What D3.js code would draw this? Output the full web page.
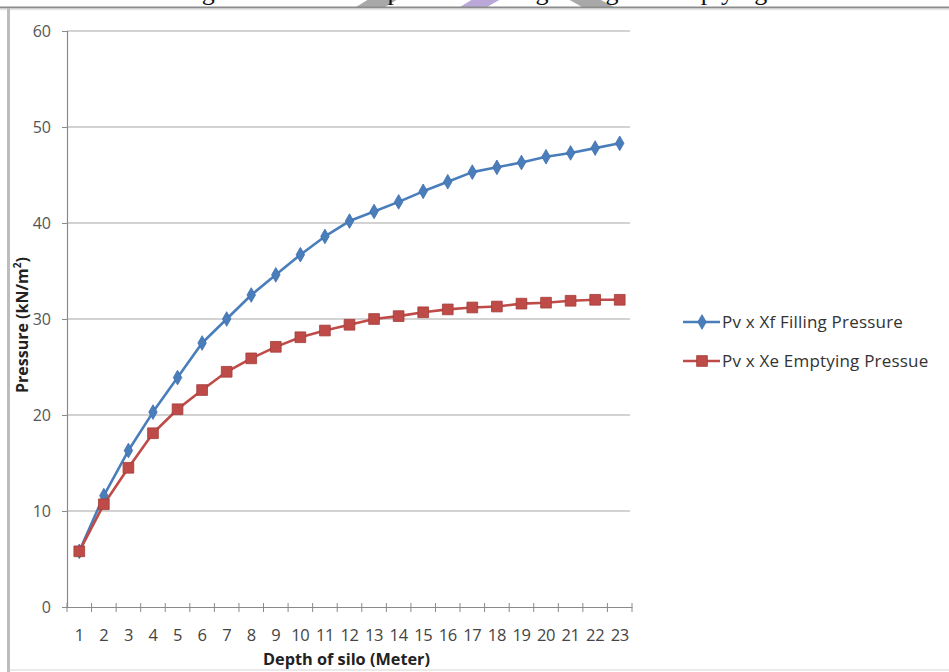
<!DOCTYPE html>
<html>
<head>
<meta charset="utf-8">
<script src="https://cdn.jsdelivr.net/npm/d3@7"></script>
<style>
  html, body { margin: 0; padding: 0; background: #fff; }
  svg { display: block; }
</style>
</head>
<body>
<svg id="chart" width="949" height="672"></svg>
<script>
// Depth of silo (m) and vertical pressure values (kN/m²)
const depths = d3.range(1, 24).map(String);
const fillingPressure = [5.8, 11.6, 16.3, 20.3, 23.9, 27.5, 30.0, 32.5, 34.6, 36.7, 38.6, 40.2,
                         41.2, 42.2, 43.3, 44.3, 45.3, 45.8, 46.3, 46.9, 47.3, 47.8, 48.3];
const emptyingPressure = [5.8, 10.7, 14.5, 18.1, 20.6, 22.6, 24.5, 25.9, 27.1, 28.1, 28.8, 29.4,
                          30.0, 30.3, 30.7, 31.0, 31.2, 31.3, 31.6, 31.7, 31.9, 32.0, 32.0];
const yTicks = [0, 10, 20, 30, 40, 50, 60];
const seriesNames = ["Pv x Xf Filling Pressure", "Pv x Xe Emptying Pressue"];
const captionText = "Figure 4.3: Vertical pressure during filling and emptying";

const svg = d3.select("#chart");
const W = 949, H = 672;
const plot = { left: 67, right: 632, top: 31, bottom: 607 };
const uiFont = "'Open Sans', Lato, sans-serif";

// Caption of the page above the framed chart (only its lower part is in view)
const cap = svg.append("g");
const wm = [
  { c: "#a8a8a8", pts: [[356, 7], [385, 7], [398, -1], [369, -1]] },
  { c: "#b9a8d8", pts: [[460, 7], [487, 7], [501, -1], [473, -1]] },
  { c: "#a8a8a8", pts: [[568, -1], [599, -1], [614, 7], [582, 7]] }
];
wm.forEach(d => cap.append("polygon")
  .attr("points", d.pts.map(p => p.join(",")).join(" "))
  .attr("fill", d.c));
cap.append("text")
  .attr("x", 180).attr("y", 0)
  .attr("font-family", "'Liberation Serif', 'DejaVu Serif', serif")
  .attr("font-size", 26)
  .attr("fill", "#111")
  .text(captionText);

// Chart frame
svg.append("rect").attr("x", 0).attr("y", 7).attr("width", W).attr("height", H - 7).attr("fill", "#fff");
svg.append("line").attr("x1", 0).attr("x2", W).attr("y1", 7.5).attr("y2", 7.5)
  .attr("stroke", "#8c8c8c").attr("stroke-width", 2);
svg.append("line").attr("x1", 0).attr("x2", W).attr("y1", 9.5).attr("y2", 9.5)
  .attr("stroke", "#e6e6e6").attr("stroke-width", 1.5);
svg.append("rect").attr("x", 7).attr("y", 8).attr("width", 3).attr("height", H - 8).attr("fill", "#bdbdbd");
svg.append("line").attr("x1", 10).attr("x2", W).attr("y1", 670).attr("y2", 670)
  .attr("stroke", "#e3e3e3").attr("stroke-width", 1.5);

// Scales
const x = d3.scaleBand().domain(depths).range([plot.left, plot.right]).padding(0);
const y = d3.scaleLinear().domain([0, 60]).range([plot.bottom, plot.top]);
const cx = d => x(d) + x.bandwidth() / 2;

// Horizontal gridlines
svg.append("g").selectAll("line").data(yTicks.filter(v => v > 0)).join("line")
  .attr("x1", plot.left).attr("x2", plot.right - 2)
  .attr("y1", d => y(d)).attr("y2", d => y(d))
  .attr("stroke", "#c4c4c4").attr("stroke-width", 1.4);

// Y axis
const yAxis = svg.append("g").attr("transform", `translate(${plot.left},0)`)
  .call(d3.axisLeft(y).tickValues(yTicks).tickSize(5).tickPadding(11).tickFormat(d3.format("d")));
yAxis.select(".domain").attr("stroke", "#8a8a8a").attr("stroke-width", 1.2);
yAxis.selectAll(".tick line").attr("stroke", "#8a8a8a");
yAxis.selectAll(".tick text").attr("font-family", uiFont).attr("font-size", 16).attr("fill", "#555");

// X axis: labels centred on categories, cross tick marks on category boundaries
const xAxis = svg.append("g").attr("transform", `translate(0,${plot.bottom})`)
  .call(d3.axisBottom(x).tickSize(0).tickPadding(22));
xAxis.select(".domain").attr("stroke", "#8a8a8a").attr("stroke-width", 1.2);
xAxis.selectAll(".tick text").attr("font-family", uiFont).attr("font-size", 16.5)
  .attr("letter-spacing", "-0.4px").attr("fill", "#444");
const bounds = depths.map(d => x(d)).concat([x.range()[1]]);
xAxis.append("g").selectAll("line").data(bounds).join("line")
  .attr("x1", d => d).attr("x2", d => d).attr("y1", -4).attr("y2", 5)
  .attr("stroke", "#8a8a8a").attr("stroke-width", 1);

// Axis titles
svg.append("text")
  .attr("x", (plot.left + plot.right) / 2 - 3).attr("y", 665)
  .attr("text-anchor", "middle")
  .attr("font-family", uiFont).attr("font-weight", "bold").attr("font-size", 16.3)
  .attr("fill", "#222")
  .text("Depth of silo (Meter)");
const yTitle = svg.append("text")
  .attr("transform", "translate(28,325) rotate(-90)")
  .attr("text-anchor", "middle")
  .attr("font-family", uiFont).attr("font-weight", "bold").attr("font-size", 16)
  .attr("fill", "#222");
yTitle.append("tspan").text("Pressure (kN/m");
yTitle.append("tspan").attr("baseline-shift", "super").attr("font-size", 10).text("2");
yTitle.append("tspan").text(")");

// Series
const series = [
  { name: seriesNames[0], values: fillingPressure, color: "#4a7ebb", stroke: "#3d6fae", shape: d3.symbolDiamond, size: 62 },
  { name: seriesNames[1], values: emptyingPressure, color: "#be4b48", stroke: "#a53c39", shape: d3.symbolSquare, size: 115 }
];
const line = d3.line().x((v, i) => cx(depths[i])).y(v => y(v));

series.forEach(s => {
  svg.append("path").datum(s.values)
    .attr("d", line).attr("fill", "none")
    .attr("stroke", s.color).attr("stroke-width", 2.6).attr("stroke-linejoin", "round");
});
series.forEach(s => {
  svg.append("g").selectAll("path").data(s.values).join("path")
    .attr("transform", (v, i) => `translate(${cx(depths[i])},${y(v)})`)
    .attr("d", d3.symbol().type(s.shape).size(s.size))
    .attr("fill", s.color).attr("stroke", s.stroke).attr("stroke-width", 0.8);
});

// Legend
const legend = svg.append("g");
series.forEach((s, i) => {
  const ly = 322 + i * 39;
  legend.append("line").attr("x1", 683).attr("x2", 720).attr("y1", ly).attr("y2", ly)
    .attr("stroke", s.color).attr("stroke-width", 2.6);
  legend.append("path").attr("transform", `translate(702,${ly})`)
    .attr("d", d3.symbol().type(s.shape).size(s.size))
    .attr("fill", s.color).attr("stroke", s.stroke).attr("stroke-width", 0.8);
  legend.append("text").attr("x", 722).attr("y", ly + 6)
    .attr("font-family", uiFont).attr("font-size", 17).attr("fill", "#333")
    .attr("letter-spacing", "0.2px")
    .text(s.name);
});
</script>
</body>
</html>
